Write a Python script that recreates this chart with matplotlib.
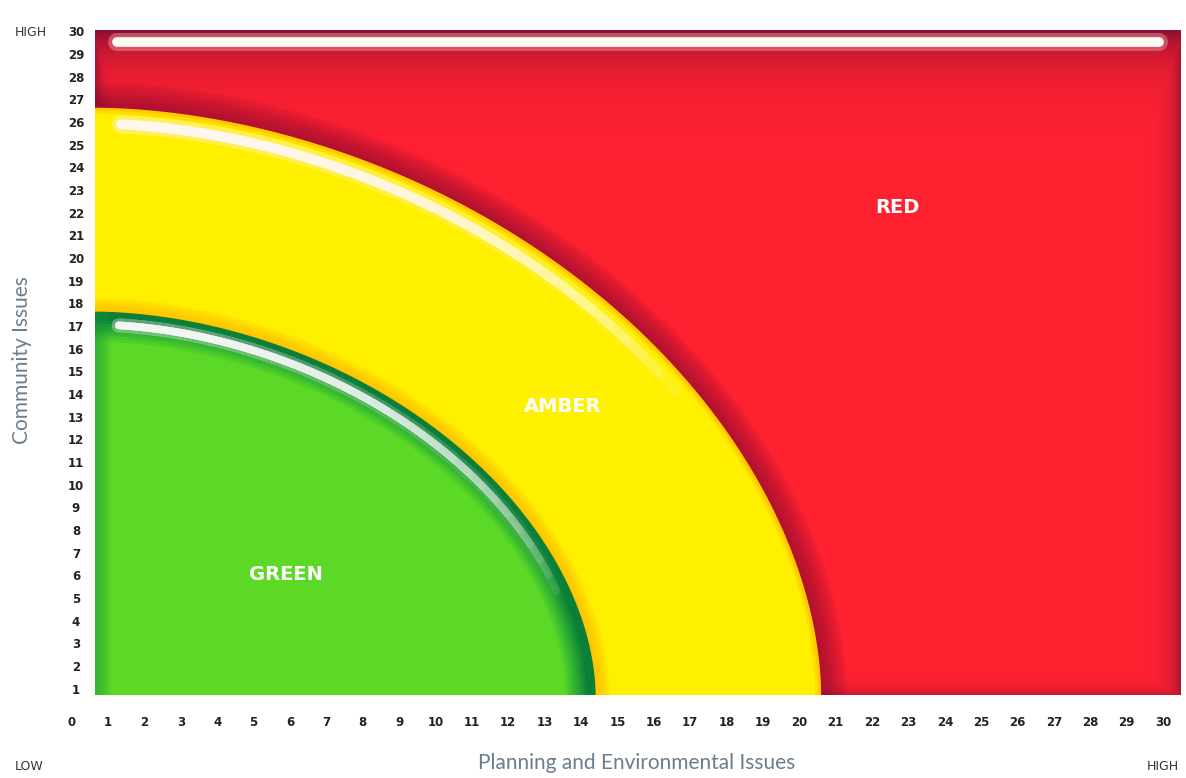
import numpy as np
import matplotlib.pyplot as plt
from matplotlib.patches import Polygon

# ---------- data ----------
x_ticks = list(range(0, 31))          # Planning and Environmental Issues
y_ticks = list(range(1, 31))          # Community Issues
zone_names = ['GREEN', 'AMBER', 'RED']
zone_edge_x = [14.4, 20.6]            # where green / amber boundary meets the x axis
zone_edge_y = [17.7, 26.7]            # where green / amber boundary meets the y axis
label_x = [5.9, 13.5, 22.7]
label_y = [6.1, 13.5, 22.3]

# ---------- layout ----------
W, H = 1186, 778
fig = plt.figure(figsize=(W / 100, H / 100), dpi=100)
L, R, T, B = 95, 1181, 30, 695
ax = fig.add_axes([L / W, 1 - B / H, (R - L) / W, (B - T) / H])
X0, X1 = 0.643, 30.49
Y0, Y1 = 0.78, 30.13
ax.set_xlim(X0, X1)
ax.set_ylim(Y0, Y1)
ax.axis('off')
sx = (R - L) / (X1 - X0)   # px per x unit
sy = (B - T) / (Y1 - Y0)   # px per y unit

# ---------- red background with darker rim ----------
ny, nx = 400, 700
px = np.linspace(0, R - L, nx)[None, :]
py = np.linspace(0, B - T, ny)[:, None]      # distance from top
base = np.array([1.0, 0.13, 0.19])
dark = np.array([0.55, 0.06, 0.20])
w = np.zeros((ny, nx))
w = np.maximum(w, np.exp(-py / 28.0))
w = np.maximum(w, 0.75 * np.exp(-px / 9.0))
w = np.maximum(w, 0.7 * np.exp(-((R - L) - px) / 10.0))
w = np.maximum(w, 0.45 * np.exp(-((B - T) - py) / 6.0))
img = base[None, None, :] * (1 - w[..., None]) + dark[None, None, :] * w[..., None]
ax.imshow(img, extent=[X0, X1, Y0, Y1], aspect='auto', zorder=0, interpolation='bilinear')

N_EXP = 1.85


def blob(ex, ey, grow=0.0, n=400):
    a = ex - X0 + grow / sx
    b = ey - Y0 + grow / sy
    t = np.linspace(0, np.pi / 2, n)
    xs = X0 + a * np.cos(t) ** (2 / N_EXP)
    ys = Y0 + b * np.sin(t) ** (2 / N_EXP)
    return np.vstack([[X0, Y0], np.column_stack([xs, ys])])


def arc(ex, ey, inset, t0, t1, n=300):
    a = ex - X0 - inset / sx
    b = ey - Y0 - inset / sy
    t = np.linspace(t0, t1, n)
    xs = X0 + a * np.cos(t) ** (2 / N_EXP)
    ys = Y0 + b * np.sin(t) ** (2 / N_EXP)
    return xs, ys


def add_blob(ex, ey, grow, color, alpha=1.0, z=1):
    p = Polygon(blob(ex, ey, grow), closed=True, facecolor=color,
                edgecolor='none', alpha=alpha, zorder=z)
    ax.add_patch(p)
    return p


gx, ax_ = zone_edge_x
gy, ay = zone_edge_y

# dark shadow outside amber
for g in np.linspace(26, 2, 13):
    add_blob(ax_, ay, g, '#8a0d35', 0.07, 1)
# amber
add_blob(ax_, ay, 0, '#ffc800', 1, 2)
add_blob(ax_, ay, -3, '#ffdd00', 1, 2)
add_blob(ax_, ay, -6, '#fff000', 1, 2)

# orange shadow outside green
for g in np.linspace(14, 2, 7):
    add_blob(gx, gy, g, '#ffb400', 0.14, 3)
# green: dark rim fading into light green
green_outer = add_blob(gx, gy, 0, '#0b7f38', 1, 4)
for g, c in zip(np.linspace(-9, -30, 8),
                ['#138a37', '#1b9636', '#24a234', '#2eae32', '#38ba30', '#44c52d', '#50cf2a', '#5cd826']):
    add_blob(gx, gy, g, c, 1, 4)
# soft darker left rim in green, clipped to the green zone
for wd in np.linspace(2, 16, 8):
    rim = Polygon([[X0, Y0], [X0 + wd / sx, Y0], [X0 + wd / sx, gy], [X0, gy]],
                  closed=True, facecolor='#139a3a', edgecolor='none', alpha=0.09, zorder=4.5)
    ax.add_patch(rim)
    rim.set_clip_path(green_outer)


def highlight(xs, ys, lw, z, steps=24):
    # stacked translucent strokes of decreasing length give a fading white gloss
    n = len(xs)
    for k in range(steps):
        m = max(2, int(n * (1 - k / steps * 0.9)))
        ax.plot(xs[:m], ys[:m], color='white', lw=lw * 1.9, alpha=0.02,
                solid_capstyle='round', zorder=z)
        ax.plot(xs[:m], ys[:m], color='white', lw=lw, alpha=0.11,
                solid_capstyle='round', zorder=z + 0.1)


# amber highlight
hx, hy = arc(ax_, ay, 16, np.radians(87.3), np.radians(34))
highlight(hx, hy, 7.0, 5)
# green highlight
hx, hy = arc(gx, gy, 13, np.radians(86.5), np.radians(18))
highlight(hx, hy, 5.5, 6)

# top glossy bar
bx = [X0 + 22 / sx, X1 - 22 / sx]
by = [Y1 - 12 / sy] * 2
ax.plot(bx, by, color='#ffc8c8', lw=13, alpha=0.35, solid_capstyle='round', zorder=7)
ax.plot(bx, by, color='#fffaf2', lw=7, solid_capstyle='round', zorder=7)

# zone labels
for name, lx, ly in zip(zone_names, label_x, label_y):
    ax.text(lx, ly, name, color='white', fontsize=14, fontweight='bold',
            ha='center', va='center', zorder=8)

# tick labels
tick_kw = dict(fontsize=8.5, fontweight='bold', color='#222222', clip_on=False)
yt = ax.get_yaxis_transform()
for v in y_ticks:
    ax.text((76 - L) / (R - L), v, str(v), transform=yt, ha='center', va='center', **tick_kw)
xt = ax.get_xaxis_transform()
for v in x_ticks:
    ax.text(v, -(723 - B) / (B - T), str(v), transform=xt, ha='center', va='center', **tick_kw)

# axis titles and HIGH/LOW markers
fig.text(31 / W, 1 - 33 / H, 'HIGH', fontsize=9, color='#333333', ha='center', va='center')
fig.text(29 / W, 1 - 767 / H, 'LOW', fontsize=9, color='#333333', ha='center', va='center')
fig.text(1163 / W, 1 - 767 / H, 'HIGH', fontsize=9, color='#333333', ha='center', va='center')
fig.text(637 / W, 1 - 763 / H, 'Planning and Environmental Issues', fontsize=15,
         color='#6a7d8e', ha='center', va='center', family='Lato')
fig.text(22 / W, 1 - 360 / H, 'Community Issues', fontsize=15, rotation=90,
         color='#6a7d8e', ha='center', va='center', family='Lato')

fig.savefig('out.png', dpi=100)
